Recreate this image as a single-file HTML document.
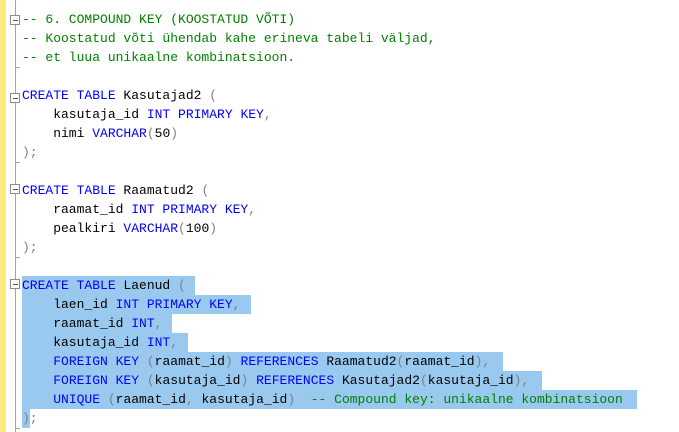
<!DOCTYPE html>
<html><head><meta charset="utf-8"><style>
body{margin:0;width:679px;height:432px;background:#fff;position:relative;overflow:hidden;font-family:"Liberation Mono",monospace;font-size:13px}
.ybar{position:absolute;left:0;top:0;width:6px;height:432px;background:#fbeb7c}
.gline{position:absolute;left:15px;top:0;width:1px;height:432px;background:#a5a5a5}
.fold{position:absolute;left:10px;width:8px;height:8px;border:1px solid #8c8c8c;background:#fff}
.fold:after{content:"";position:absolute;left:2px;top:4px;width:5px;height:1px;background:#555}
.tick{position:absolute;left:15px;width:5px;height:1px;background:#a5a5a5}
.l{position:absolute;left:22px;height:19px;line-height:19px;white-space:pre}
.sel{background:#99c9ef}
.k{color:#0000ff}.c{color:#008000}.p{color:#808080}
</style></head><body>
<div class="ybar"></div><div class="gline"></div>
<div class="fold" style="top:15px"></div><div class="tick" style="top:67px"></div>
<div class="fold" style="top:93px"></div><div class="tick" style="top:162px"></div>
<div class="fold" style="top:184px"></div><div class="tick" style="top:257px"></div>
<div class="fold" style="top:279px"></div><div class="tick" style="top:428px"></div>
<div class="l c" style="top:10px">-- 6. COMPOUND KEY (KOOSTATUD VÕTI)</div>
<div class="l c" style="top:29px">-- Koostatud võti ühendab kahe erineva tabeli väljad,</div>
<div class="l c" style="top:48px">-- et luua unikaalne kombinatsioon.</div>
<div class="l" style="top:86px"><span class="k">CREATE TABLE</span> Kasutajad2 <span class="p">(</span></div>
<div class="l" style="top:105px">    kasutaja_id <span class="k">INT PRIMARY KEY</span><span class="p">,</span></div>
<div class="l" style="top:124px">    nimi <span class="k">VARCHAR</span><span class="p">(</span>50<span class="p">)</span></div>
<div class="l p" style="top:143px">);</div>
<div class="l" style="top:181px"><span class="k">CREATE TABLE</span> Raamatud2 <span class="p">(</span></div>
<div class="l" style="top:200px">    raamat_id <span class="k">INT PRIMARY KEY</span><span class="p">,</span></div>
<div class="l" style="top:219px">    pealkiri <span class="k">VARCHAR</span><span class="p">(</span>100<span class="p">)</span></div>
<div class="l p" style="top:238px">);</div>
<div class="l sel" style="top:276px;width:173px"><span class="k">CREATE TABLE</span> Laenud <span class="p">(</span></div>
<div class="l sel" style="top:295px;width:229px">    laen_id <span class="k">INT PRIMARY KEY</span><span class="p">,</span></div>
<div class="l sel" style="top:314px;width:150px">    raamat_id <span class="k">INT</span><span class="p">,</span></div>
<div class="l sel" style="top:333px;width:166px">    kasutaja_id <span class="k">INT</span><span class="p">,</span></div>
<div class="l sel" style="top:352px;width:481px">    <span class="k">FOREIGN KEY</span> <span class="p">(</span>raamat_id<span class="p">)</span> <span class="k">REFERENCES</span> Raamatud2<span class="p">(</span>raamat_id<span class="p">),</span></div>
<div class="l sel" style="top:371px;width:520px">    <span class="k">FOREIGN KEY</span> <span class="p">(</span>kasutaja_id<span class="p">)</span> <span class="k">REFERENCES</span> Kasutajad2<span class="p">(</span>kasutaja_id<span class="p">),</span></div>
<div class="l sel" style="top:390px;width:615px">    <span class="k">UNIQUE</span> <span class="p">(</span>raamat_id<span class="p">,</span> kasutaja_id<span class="p">)</span>  <span class="c">-- Compound key: unikaalne kombinatsioon</span></div>
<div class="l sel" style="top:409px;width:8px"></div>
<div class="l p" style="top:409px">);</div>
</body></html>
